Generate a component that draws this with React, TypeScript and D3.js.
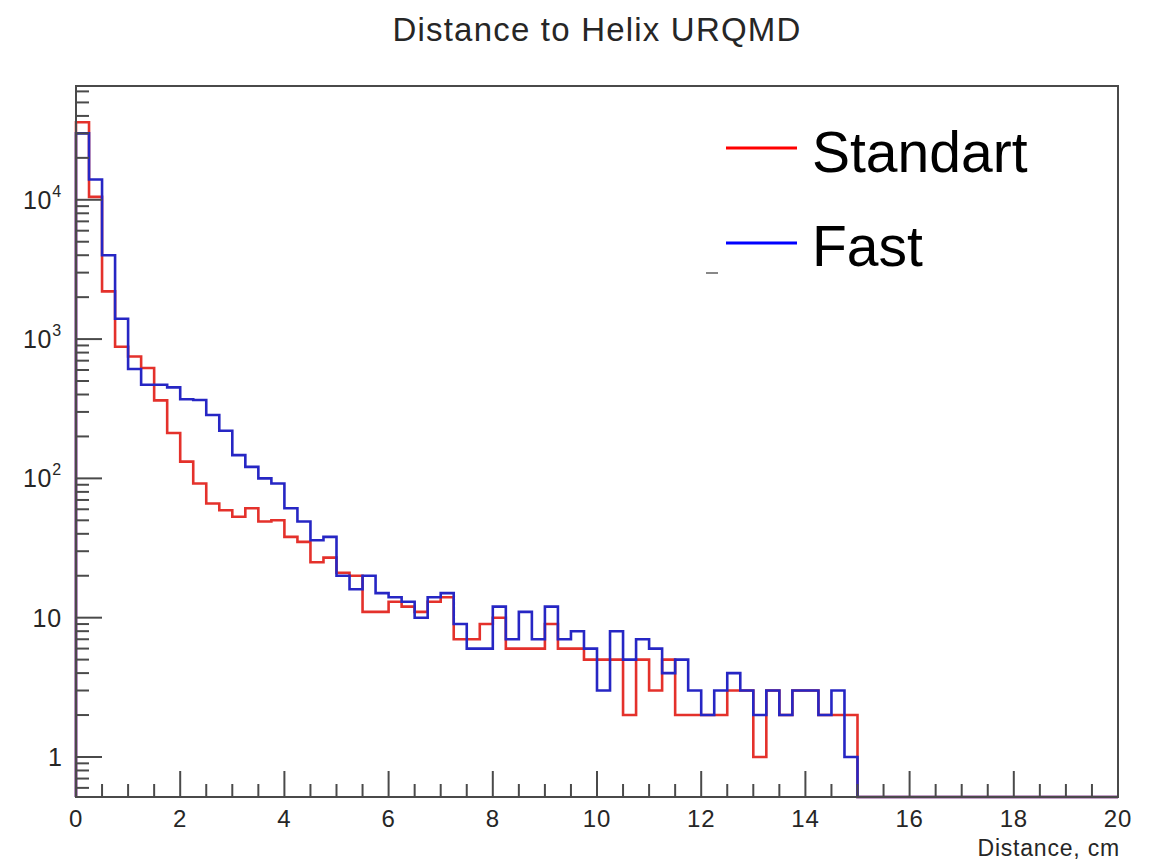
import React from "react";
import * as d3 from "d3";

// ---- data (bin width 0.25 cm, 80 bins over 0..20) ----
const binWidth = 0.25;
const standartCounts = [
  36000, 10500, 2200, 880, 750, 620, 363, 212, 132, 92,
  66, 59, 53, 61, 49, 50, 38, 35, 25, 27,
  21, 20, 11, 11, 13, 12, 11, 13, 14, 7,
  7, 9, 10, 6, 6, 6, 9, 6, 6, 5,
  5, 5, 2, 5, 3, 5, 2, 2, 2, 2,
  3, 3, 1, 3, 2, 3, 3, 2, 2, 2,
  0, 0, 0, 0, 0, 0, 0, 0, 0, 0,
  0, 0, 0, 0, 0, 0, 0, 0, 0, 0,
];
const fastCounts = [
  30000, 14000, 4000, 1400, 610, 470, 470, 450, 370, 365,
  285, 220, 147, 121, 100, 92, 61, 49, 36, 38,
  20, 16, 20, 15, 14, 13, 10, 14, 15, 9,
  6, 6, 12, 7, 11, 7, 12, 7, 8, 6,
  3, 8, 5, 7, 6, 4, 5, 3, 2, 3,
  4, 3, 2, 3, 2, 3, 3, 2, 3, 1,
  0, 0, 0, 0, 0, 0, 0, 0, 0, 0,
  0, 0, 0, 0, 0, 0, 0, 0, 0, 0,
];
const xTicks = [0, 2, 4, 6, 8, 10, 12, 14, 16, 18, 20];
const yTickExponents = [0, 1, 2, 3, 4];
const seriesNames = ["Standart", "Fast"];

const W = 1160;
const H = 862;
const FONT = "'Liberation Sans', Arial, Helvetica, sans-serif";
const RED = "#e4312b";
const BLUE = "#2626c4";
const AXIS = "#4a4a4a";
const TXT = "#262626";

const left = 76;
const right = 1118;
const top = 86;
const bottom = 797;

const x = d3.scaleLinear().domain([0, 20]).range([left, right]);
const y = d3.scaleLog().domain([0.516, 65600]).range([bottom, top]);

function histPath(counts: number[]) {
  const pts: [number, number][] = [[x(0), bottom]];
  counts.forEach((c, i) => {
    const yy = c > 0 ? Math.max(top, Math.min(bottom, y(c))) : bottom;
    pts.push([x(i * binWidth), yy]);
    pts.push([x((i + 1) * binWidth), yy]);
  });
  pts.push([x(20), bottom]);
  return d3.line()(pts) || "";
}

export default function App() {
  const majorLen = 26;
  const minorLen = 13;
  const xMinor: number[] = d3.range(0, 20.001, 0.5).filter((v) => Math.abs(v % 2) > 1e-6);
  const yMinor: number[] = [];
  for (let e = -1; e <= 4; e++) {
    for (let m = 2; m <= 9; m++) {
      const v = m * Math.pow(10, e);
      if (v >= 0.516 && v <= 65600) yMinor.push(v);
    }
  }
  return (
    <svg
      width={W}
      height={H}
      style={{ position: "absolute", left: 0, top: 0, background: "#fff" }}
      fontFamily={FONT}
    >
      <rect x={0} y={0} width={W} height={H} fill="#fff" />
      <text x={597} y={41} textAnchor="middle" fontSize={33} letterSpacing={1.2} fill={TXT}>
        Distance to Helix URQMD
      </text>

      {/* histograms */}
      <path d={histPath(standartCounts)} fill="none" stroke={RED} strokeWidth={2.6} />
      <path d={histPath(fastCounts)} fill="none" stroke={BLUE} strokeWidth={2.6} />

      {/* frame */}
      <rect x={left} y={top} width={right - left} height={bottom - top} fill="none" stroke={AXIS} strokeWidth={2} />

      {/* x ticks */}
      {xTicks.map((t) => (
        <line key={"xt" + t} x1={x(t)} x2={x(t)} y1={bottom} y2={bottom - majorLen} stroke={AXIS} strokeWidth={2} />
      ))}
      {xMinor.map((t) => (
        <line key={"xm" + t} x1={x(t)} x2={x(t)} y1={bottom} y2={bottom - minorLen} stroke={AXIS} strokeWidth={2} />
      ))}
      {xTicks.map((t) => (
        <text key={"xl" + t} x={x(t)} y={827} textAnchor="middle" fontSize={24} letterSpacing={0.8} fill={TXT}>
          {t}
        </text>
      ))}
      <text x={1120} y={856} textAnchor="end" fontSize={23} letterSpacing={0.8} fill={TXT}>
        Distance, cm
      </text>

      {/* y ticks */}
      {yTickExponents.map((e) => (
        <line key={"yt" + e} x1={left} x2={left + majorLen} y1={y(Math.pow(10, e))} y2={y(Math.pow(10, e))} stroke={AXIS} strokeWidth={2} />
      ))}
      {yMinor.map((v) => (
        <line key={"ym" + v} x1={left} x2={left + minorLen} y1={y(v)} y2={y(v)} stroke={AXIS} strokeWidth={2} />
      ))}
      {yTickExponents.map((e) => {
        const yy = y(Math.pow(10, e)) + 9;
        if (e === 0)
          return (
            <text key={"yl" + e} x={62} y={yy} textAnchor="end" fontSize={25} fill={TXT}>1</text>
          );
        if (e === 1)
          return (
            <text key={"yl" + e} x={62} y={yy} textAnchor="end" fontSize={25} letterSpacing={0.8} fill={TXT}>10</text>
          );
        return (
          <text key={"yl" + e} x={62} y={yy} textAnchor="end" fontSize={25} letterSpacing={0.8} fill={TXT}>
            10<tspan dy={-12} fontSize={16}>{e}</tspan>
          </text>
        );
      })}

      {/* legend */}
      <line x1={726} x2={797} y1={148} y2={148} stroke="#ff0000" strokeWidth={3} />
      <line x1={726} x2={797} y1={243} y2={243} stroke="#0000ff" strokeWidth={3} />
      <line x1={706} x2={718} y1={273} y2={273} stroke="#888" strokeWidth={2} />
      <text x={812} y={172} fontSize={57} fill="#000">{seriesNames[0]}</text>
      <text x={812} y={266} fontSize={57} fill="#000">{seriesNames[1]}</text>
    </svg>
  );
}
